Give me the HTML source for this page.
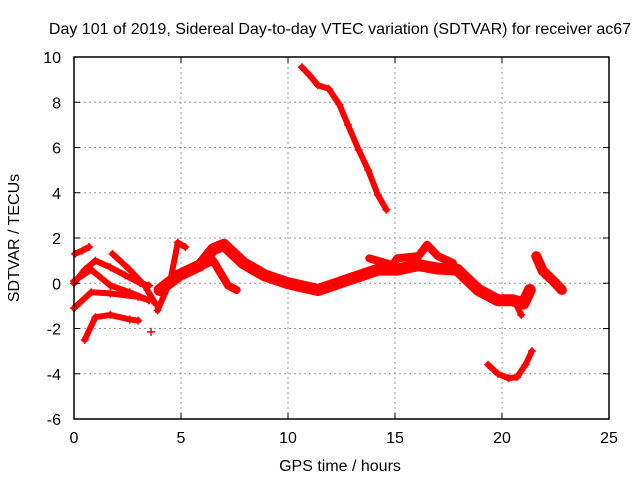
<!DOCTYPE html>
<html><head><meta charset="utf-8"><style>
body{margin:0;background:#fff}
svg{display:block;font-family:"Liberation Sans",sans-serif;font-size:16px}
</style></head><body>
<svg id="chart" width="640" height="480">
<text x="340" y="34" text-anchor="middle">Day 101 of 2019, Sidereal Day-to-day VTEC variation (SDTVAR) for receiver ac67</text>
<text x="340" y="471" text-anchor="middle">GPS time / hours</text>
<text transform="translate(19,238) rotate(-90)" text-anchor="middle">SDTVAR / TECUs</text>
<g id="grid"></g><g id="marks"></g><g id="axes"></g>
</svg>
<script>
const xTicks=[0,5,10,15,20,25];
const yTicks=[-6,-4,-2,0,2,4,6,8,10];
const trackA=[[0.05,1.3],[0.4,1.45],[0.7,1.6]];
const trackB=[[0,0],[0.5,0.6],[1.0,1.0],[1.7,0.7],[2.4,0.35],[3.1,0],[3.5,-0.1]];
const trackC=[[0,0.1],[0.8,0.6],[1.7,-0.1],[2.6,-0.4],[3.5,-0.75]];
const trackD=[[0,-1.1],[0.8,-0.4],[1.7,-0.45],[3.0,-0.6],[3.5,-0.75]];
const trackE=[[1.8,1.3],[2.6,0.6],[3.3,-0.1],[3.8,-0.9]];
const trackF=[[0.5,-2.5],[1.0,-1.5],[1.7,-1.4],[2.6,-1.6],[3.0,-1.65]];
const trackG=[[3.6,-2.15]];
const trackH=[[3.9,-1.2],[4.5,0.1],[4.85,1.8],[5.2,1.6]];
const trackMain=[[4.0,-0.3],[4.9,0.35],[5.9,0.8],[6.5,1.5],[7.0,1.7],[7.9,0.9],[8.9,0.35],[10,0],[11.4,-0.3],[12.8,0.15],[14.2,0.6],[15.1,0.6],[16.1,0.8],[17,0.65],[17.9,0.6],[18.9,-0.3],[19.8,-0.75],[20.5,-0.75],[21.0,-0.9],[21.3,-0.3]];
const trackLoop=[[5.6,0.6],[6.5,1.0],[7.2,-0.1],[7.6,-0.3]];
const trackUpper=[[13.8,1.1],[14.9,0.8],[15.1,1.1],[16.1,1.2],[16.5,1.7],[17,1.2],[17.7,0.9]];
const trackRight=[[21.6,1.2],[21.9,0.55],[22.4,0.1],[22.8,-0.3]];
const trackDip=[[20.7,-1.0],[20.9,-1.4]];
const trackHigh=[[10.65,9.55],[11,9.2],[11.4,8.75],[11.9,8.6],[12.4,7.9],[12.8,7.0],[13.3,5.9],[13.75,5.0],[14.2,3.9],[14.6,3.25]];
const trackLow=[[19.35,-3.6],[19.8,-4.0],[20.3,-4.2],[20.7,-4.15],[21.1,-3.6],[21.4,-3.0]];
const tracks=[trackA,trackB,trackC,trackD,trackE,trackF,trackG,trackH,trackMain,trackLoop,trackUpper,trackRight,trackDip,trackHigh,trackLow];
const widths=[6,6,6,6,6,6,0,6,12,8,8,10,6,6,6];

const L=74,R=609,T=57,B=419;
const sx=v=>L+(v-0)/(25-0)*(R-L);
const sy=v=>B-(v+6)/16*(B-T);
const NS="http://www.w3.org/2000/svg";
function mk(tag,attrs,parent){const e=document.createElementNS(NS,tag);for(const k in attrs)e.setAttribute(k,attrs[k]);parent.appendChild(e);return e;}
const grid=document.getElementById('grid'),axes=document.getElementById('axes'),marks=document.getElementById('marks');
xTicks.forEach(t=>{
  const x=sx(t);
  if(t>0&&t<25){const g=mk('line',{x1:x,x2:x,y1:T,y2:B,stroke:'#999','stroke-dasharray':'2,3'},grid);
  
  }
  mk('line',{x1:x,x2:x,y1:B,y2:B-6,stroke:'#000'},axes);
  mk('line',{x1:x,x2:x,y1:T,y2:T+6,stroke:'#000'},axes);
  const l=mk('text',{x:x,y:B+24,'text-anchor':'middle'},axes);l.textContent=t;
  
  
});
yTicks.forEach(t=>{
  const y=sy(t);
  if(t>-6&&t<10){const g=mk('line',{x1:L,x2:R,y1:y,y2:y,stroke:'#999','stroke-dasharray':'2,3'},grid);
  
  }
  mk('line',{x1:L,x2:L+6,y1:y,y2:y,stroke:'#000'},axes);
  mk('line',{x1:R,x2:R-6,y1:y,y2:y,stroke:'#000'},axes);
  const l=mk('text',{x:L-13,y:y+6,'text-anchor':'end'},axes);l.textContent=t;
  
  
});
const fr=mk('rect',{x:L,y:T,width:R-L,height:B-T,fill:'none',stroke:'#000','stroke-width':1.5},axes);


tracks.forEach((tr,i)=>{
  if(tr.length>1){
    const p=mk('polyline',{points:tr.map(d=>sx(d[0])+','+sy(d[1])).join(' '),fill:'none',stroke:'#f00','stroke-width':widths[i],'stroke-linejoin':'round','stroke-linecap':'round'},marks);
    
    
  }
  tr.forEach(d=>{
    const x=sx(d[0]),y=sy(d[1]);
    const m=mk('path',{d:`M${x-4},${y}H${x+4}M${x},${y-4}V${y+4}`,stroke:'#f00','stroke-width':1.5},marks);
    
    
  });
});
</script>
</body></html>
